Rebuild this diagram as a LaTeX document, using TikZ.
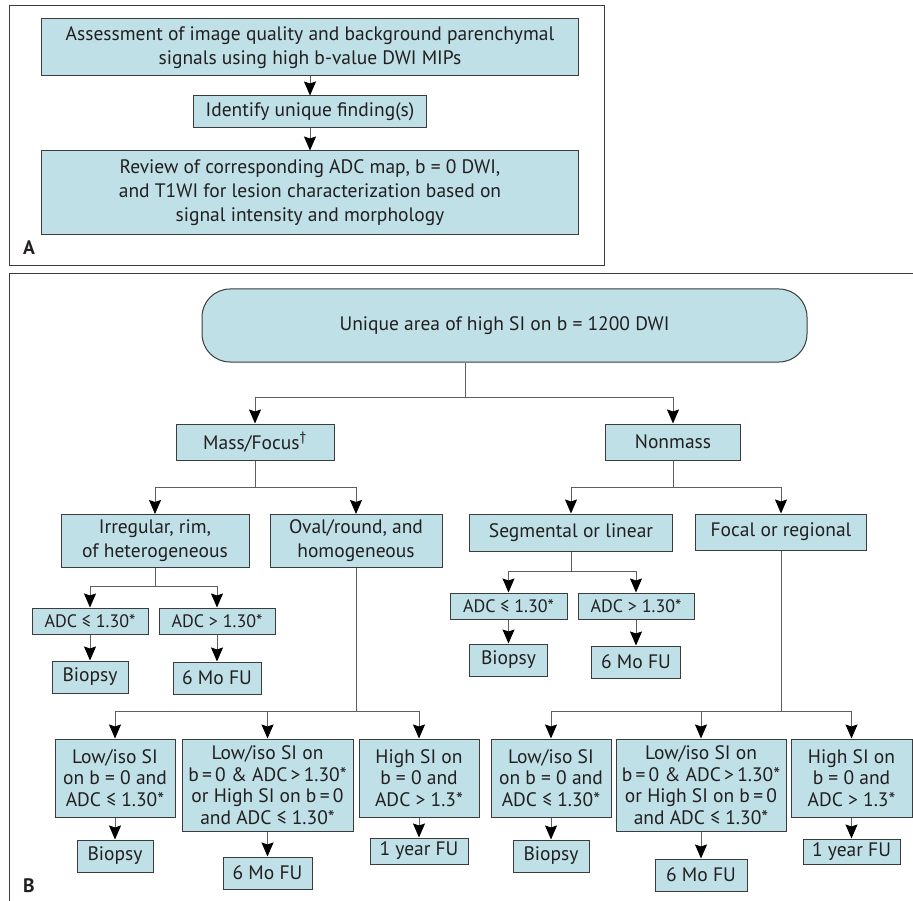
\documentclass[tikz,border=0pt]{standalone}
\usepackage{fontspec}
\setmainfont{PT Sans}
\usepackage{xcolor}
\usepackage{tikz}
\usetikzlibrary{arrows.meta}
\definecolor{boxfill}{RGB}{190,224,230}
\definecolor{boxline}{RGB}{60,60,60}
\definecolor{linkgray}{RGB}{95,95,95}
\definecolor{txt}{RGB}{35,31,32}

\begin{document}
\begin{tikzpicture}[x=1pt, y=-1pt, every node/.style={align=center, text=txt, font=\fontsize{19.5}{24}\selectfont},
box/.style={draw=boxline, fill=boxfill, line width=1pt, inner sep=0pt},
tight/.style={font=\fontsize{19.5}{21.5}\selectfont},
small/.style={font=\fontsize{18}{20}\selectfont},
link/.style={draw=linkgray, line width=1pt},
arr/.style={link, -{Stealth[length=14pt, width=12pt, inset=2pt, color=black, fill=black]}}]
\useasboundingbox (0,0) rectangle (913,901);
\draw[boxline, line width=1pt] (9.5,6) rectangle (604,266);
\draw[boxline, line width=1pt] (913,274) -- (9.5,274) -- (9.5,901);
\node[box, minimum width=537pt, minimum height=57pt] (assess) at (310,47.5) {Assessment of image quality and background parenchymal\\signals using high b-value DWI MIPs};
\node[box, minimum width=233pt, minimum height=32pt] (ident) at (310,112) {Identify unique finding(s)};
\node[box, minimum width=537pt, minimum height=84pt] (review) at (310,193) {Review of corresponding ADC map, b = 0 DWI,\\and T1WI for lesion characterization based on\\signal intensity and morphology};
\node[font=\bfseries\fontsize{19.5}{20}\selectfont] (labA) at (29,248) {A};
\draw[arr] (assess) -- (ident);
\draw[arr] (ident) -- (review);

\node[box, rounded corners=28pt, minimum width=605pt, minimum height=73pt] (root) at (504.5,325.5) {Unique area of high SI on b = 1200 DWI};
\coordinate (split) at (465,397);
\node[box, minimum width=158pt, minimum height=36pt] (mass) at (255,442) {Mass/Focus\textsuperscript{†}};
\node[box, minimum width=135pt, minimum height=36pt] (nonmass) at (673,442) {Nonmass};
\draw[link] (root.south -| split) -- (split);
\draw[arr] (split) -| (mass);
\draw[arr] (split) -| (nonmass);

\node[box, minimum width=188pt, minimum height=53pt] (irreg) at (155,541) {Irregular, rim,\\of heterogeneous};
\node[box, minimum width=172pt, minimum height=53pt] (oval) at (356,541) {Oval/round, and\\homogeneous};
\draw[arr] (mass.south) -- ++(0,27) -| (irreg);
\draw[arr] (mass.south) -- ++(0,27) -| (oval);
\node[box, minimum width=203pt, minimum height=37pt] (segm) at (571,532.5) {Segmental or linear};
\node[box, minimum width=171pt, minimum height=36pt] (focal) at (781,532) {Focal or regional};
\draw[arr] (nonmass.south) -- ++(0,27) -| (segm);
\draw[arr] (nonmass.south) -- ++(0,27) -| (focal);

\node[box, small, minimum width=116pt, minimum height=26pt] (irlow) at (90,621) {ADC ≤ 1.30*};
\node[box, small, minimum width=116pt, minimum height=26pt] (irhigh) at (217,621) {ADC > 1.30*};
\draw[arr] (irreg.south) -- ++(0,18) -| (irlow);
\draw[arr] (irreg.south) -- ++(0,18) -| (irhigh);
\node[box, minimum width=76pt, minimum height=32pt] (irbiop) at (90,677) {Biopsy};
\node[box, minimum width=88pt, minimum height=32pt] (irfu) at (217,678) {6 Mo FU};
\draw[arr] (irlow) -- (irbiop);
\draw[arr] (irhigh) -- (irfu);

\node[box, small, minimum width=117pt, minimum height=26pt] (seglow) at (508.5,606) {ADC ≤ 1.30*};
\node[box, small, minimum width=116pt, minimum height=26pt] (seghigh) at (636,606) {ADC > 1.30*};
\draw[arr] (segm.south) -- ++(0,20) -| (seglow);
\draw[arr] (segm.south) -- ++(0,20) -| (seghigh);
\node[box, minimum width=78pt, minimum height=32pt] (segbiop) at (508.5,660) {Biopsy};
\node[box, minimum width=89pt, minimum height=32pt] (segfu) at (636,662) {6 Mo FU};
\draw[arr] (seglow) -- (segbiop);
\draw[arr] (seghigh) -- (segfu);

\node[box, tight, anchor=north, minimum width=120pt, minimum height=78pt] (ovlow) at (115,738.5) {Low/iso SI\\on b = 0 and\\ADC ≤ 1.30*};
\node[box, tight, anchor=north, minimum width=171pt, minimum height=92pt] (ovmid) at (267.5,738.5) {Low/iso SI on\\b\,=\,0 \& ADC\,>\,1.30*\\or High SI on b\,=\,0\\and ADC ≤ 1.30*};
\node[box, tight, anchor=north, minimum width=120pt, minimum height=78pt] (ovhigh) at (419,738.5) {High SI on\\b = 0 and\\ADC > 1.3*};
\draw[arr] (oval.south) -- ++(0,143) -| (ovlow);
\draw[arr] (oval.south) -- ++(0,143) -| (ovmid);
\draw[arr] (oval.south) -- ++(0,143) -| (ovhigh);
\node[box, minimum width=76pt, minimum height=32pt] (ovbiop) at (115,856) {Biopsy};
\node[box, minimum width=89pt, minimum height=32pt] (ovfu) at (267.5,873) {6 Mo FU};
\node[box, minimum width=98pt, minimum height=26pt] (ovyear) at (419,851) {1 year FU};
\draw[arr] (ovlow) -- (ovbiop);
\draw[arr] (ovmid) -- (ovfu);
\draw[arr] (ovhigh) -- (ovyear);

\node[box, tight, anchor=north, minimum width=120pt, minimum height=78pt] (folow) at (551,738.5) {Low/iso SI\\on b = 0 and\\ADC ≤ 1.30*};
\node[box, tight, anchor=north, minimum width=170pt, minimum height=92pt] (fomid) at (701,738.5) {Low/iso SI on\\b\,=\,0 \& ADC\,>\,1.30*\\or High SI on b\,=\,0\\and ADC ≤ 1.30*};
\node[box, tight, anchor=north, minimum width=121pt, minimum height=78pt] (fohigh) at (851.5,738.5) {High SI on\\b = 0 and\\ADC > 1.3*};
\draw[arr] (focal.south) -- ++(0,161) -| (folow);
\draw[arr] (focal.south) -- ++(0,161) -| (fomid);
\draw[arr] (focal.south) -- ++(0,161) -| (fohigh);
\node[box, minimum width=76pt, minimum height=32pt] (fobiop) at (551,856) {Biopsy};
\node[box, minimum width=92pt, minimum height=32pt] (fofu) at (701,875) {6 Mo FU};
\node[box, minimum width=97pt, minimum height=25pt] (foyear) at (851.5,851.5) {1 year FU};
\draw[arr] (folow) -- (fobiop);
\draw[arr] (fomid) -- (fofu);
\draw[arr] (fohigh) -- (foyear);
\node[font=\bfseries\fontsize{19.5}{20}\selectfont] (labB) at (29,886) {B};
\end{tikzpicture}
\end{document}
